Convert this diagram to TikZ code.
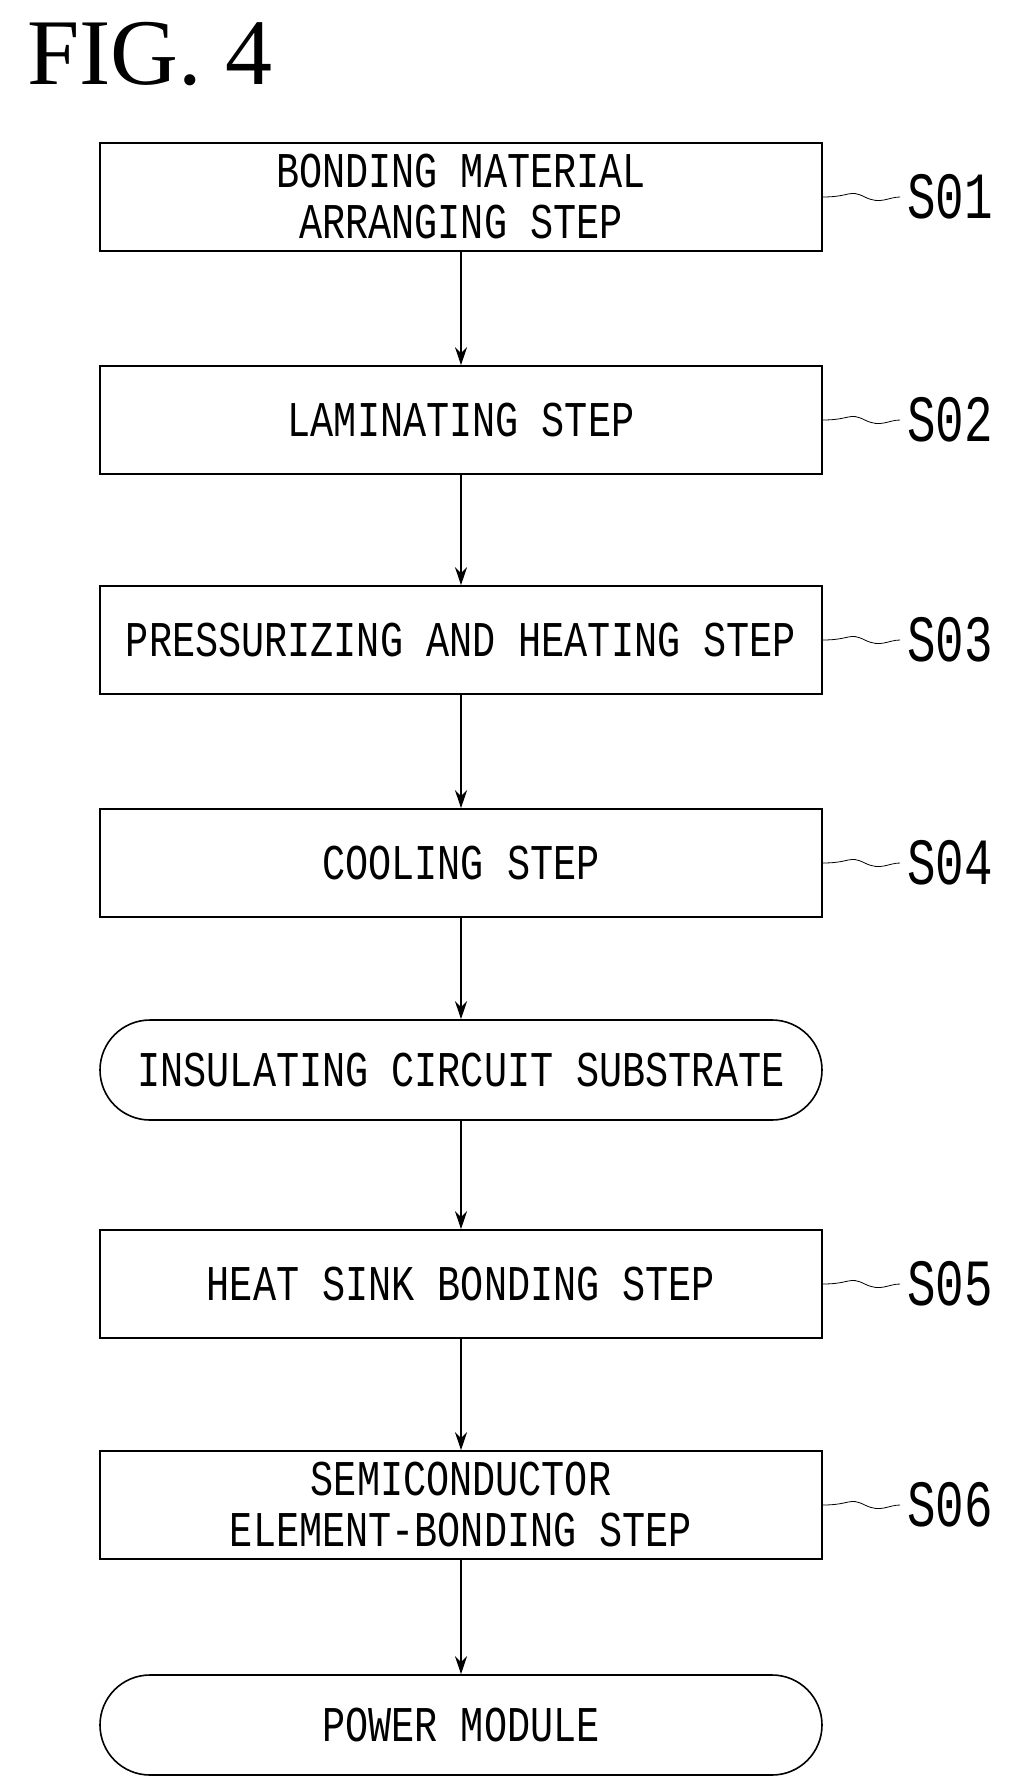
\documentclass[tikz,border=0pt]{standalone}
\usepackage{fontspec}
\setmainfont{Liberation Serif}
\newfontfamily\stepfont[FakeStretch=0.77]{Liberation Mono}
\newfontfamily\tagfont[FakeStretch=0.72]{Liberation Mono}
\usetikzlibrary{arrows.meta}

\tikzset{
  stepbox/.style={draw, thick, minimum width=361pt, minimum height=54pt, align=center,
    font=\stepfont\fontsize{25}{25.5}\selectfont},
  termbox/.style={stepbox, rounded corners=25pt, minimum height=50pt},
  tag/.style={font=\tagfont\fontsize{33}{33}\selectfont},
  flow/.style={-{Stealth[length=9pt,width=6pt]}, thick},
}

\begin{document}
\begin{tikzpicture}[x=0.5pt, y=-0.5pt]
        \useasboundingbox (0,0) rectangle (1014,1788);
        \node [anchor=base west, font=\fontsize{47}{47}\selectfont] (fig) at (20,84) {FIG. 4};
        % process steps
        \node [stepbox] (s1) at (461,197) {BONDING MATERIAL\\ARRANGING STEP};
        \node [stepbox] (s2) at (461,420) {LAMINATING STEP};
        \node [stepbox] (s3) at (461,640) {PRESSURIZING AND HEATING STEP};
        \node [stepbox] (s4) at (461,863) {COOLING STEP};
        \node [termbox] (sub) at (461,1070) {INSULATING CIRCUIT SUBSTRATE};
        \node [stepbox] (s5) at (461,1284) {HEAT SINK BONDING STEP};
        \node [stepbox] (s6) at (461,1505) {SEMICONDUCTOR\\ELEMENT-BONDING STEP};
        \node [termbox] (pm) at (461,1725) {POWER MODULE};
        % step labels
        \foreach \b/\t/\y in {s1/S01/197, s2/S02/420, s3/S03/640, s4/S04/863, s5/S05/1284, s6/S06/1505} {
          \node [tag, anchor=west] (l\b) at (900,\y) {\t};
          \draw [thin] (\b.east) .. controls +(14pt,0) and +(-8pt,4pt) .. ++(21pt,0)
                .. controls +(8pt,-4pt) and +(-6pt,0) .. (l\b.west);
        }
        % arrows
        \draw [flow] (s1) -- (s2);
        \draw [flow] (s2) -- (s3);
        \draw [flow] (s3) -- (s4);
        \draw [flow] (s4) -- (sub);
        \draw [flow] (sub) -- (s5);
        \draw [flow] (s5) -- (s6);
        \draw [flow] (s6) -- (pm);
      \end{tikzpicture}
\end{document}
